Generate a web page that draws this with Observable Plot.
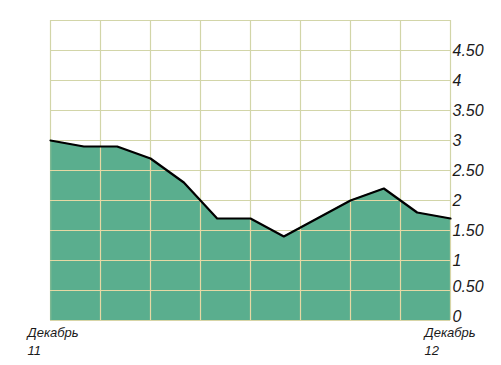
<!DOCTYPE html>
<html>
<head>
<meta charset="utf-8">
<script src="https://cdn.jsdelivr.net/npm/d3@7"></script>
<script src="https://cdn.jsdelivr.net/npm/@observablehq/plot@0.6"></script>
<style>
  html, body { margin: 0; padding: 0; background: #fff; }
  svg { font-family: "Liberation Sans", Arial, sans-serif; }
</style>
</head>
<body>
<div id="chart"></div>
<script>
// Monthly values, Декабрь 11 -> Декабрь 12
const months = [0, 1, 2, 3, 4, 5, 6, 7, 8, 9, 10, 11, 12];
const values = [3.0, 2.9, 2.9, 2.7, 2.3, 1.7, 1.7, 1.4, 1.7, 2.0, 2.2, 1.8, 1.7];
const yTicks = [0, 0.5, 1, 1.5, 2, 2.5, 3, 3.5, 4, 4.5];
const yTickLabels = ["0", "0.50", "1", "1.50", "2", "2.50", "3", "3.50", "4", "4.50"];
const yGrid = [0, 0.5, 1, 1.5, 2, 2.5, 3, 3.5, 4, 4.5, 5];
const xGrid = [0, 1.5, 3, 4.5, 6, 7.5, 9, 10.5, 12];
const xLabelPos = [0, 12];
const xLabels = ["Декабрь\n11", "Декабрь\n12"];

const data = months.map((m, i) => ({m, v: values[i]}));
const tickData = yTicks.map((t, i) => ({t, label: yTickLabels[i]}));
const gridOuter = "#d2d5a8";
const gridInner = "#e6d8a4";

const labelStyle = {fontSize: 16, fontStyle: "italic", fill: "#1a1a1a", textAnchor: "start", dx: 2};

const chart = Plot.plot({
  width: 501,
  height: 365,
  marginLeft: 50,
  marginRight: 51,
  marginTop: 20,
  marginBottom: 45,
  style: {fontFamily: "'Liberation Sans', Arial, sans-serif", background: "#fff"},
  x: {domain: [0, 12], axis: null},
  y: {domain: [0, 5], axis: null},
  marks: [
    Plot.ruleY(yGrid, {stroke: gridOuter, strokeWidth: 1.2}),
    Plot.ruleX(xGrid, {y1: 0, y2: 5, stroke: gridOuter, strokeWidth: 1.2}),
    Plot.areaY(data, {x: "m", y: "v", fill: "#5aae8e"}),
    Plot.ruleY(yGrid, {stroke: gridInner, strokeWidth: 1.2}),
    Plot.ruleX(xGrid, {y1: 0, y2: 5, stroke: gridInner, strokeWidth: 1.2}),
    Plot.lineY(data, {x: "m", y: "v", stroke: "#000", strokeWidth: 2.2}),
    Plot.text(tickData.filter(d => d.t >= 1), {
      x: 12, y: "t", text: "label", ...labelStyle, dy: 0
    }),
    Plot.text(tickData.filter(d => d.t < 1), {
      x: 12, y: "t", text: "label", ...labelStyle, dy: -4
    }),
    Plot.text(xLabelPos, {
      x: d => d, y: 0,
      text: (d, i) => xLabels[i],
      textAnchor: "start", lineAnchor: "top",
      dy: 3,
      fontSize: 13, fontStyle: "italic", fill: "#1a1a1a", lineHeight: 1.42
    })
  ]
});

// Clip the inner (light) grid to the area shape
const svg = d3.select(chart);
const areaPath = svg.select("g[aria-label='area'] path").attr("d");
const clipId = "areaClip";
svg.insert("defs", ":first-child").append("clipPath").attr("id", clipId)
  .append("path").attr("d", areaPath);
const rules = chart.querySelectorAll("g[aria-label^='rule']");
if (rules.length >= 4) {
  rules[2].setAttribute("clip-path", `url(#${clipId})`);
  rules[3].setAttribute("clip-path", `url(#${clipId})`);
}
// Shift x labels horizontally to match layout
const textGroups = chart.querySelectorAll("g[aria-label='text']");
const xTexts = textGroups[textGroups.length - 1].querySelectorAll("text");
if (xTexts.length === 2) {
  xTexts[0].setAttribute("transform", (xTexts[0].getAttribute("transform") || "") + " translate(-23,0)");
  xTexts[1].setAttribute("transform", (xTexts[1].getAttribute("transform") || "") + " translate(-26,0)");
}
document.getElementById("chart").appendChild(chart);
</script>
</body>
</html>
